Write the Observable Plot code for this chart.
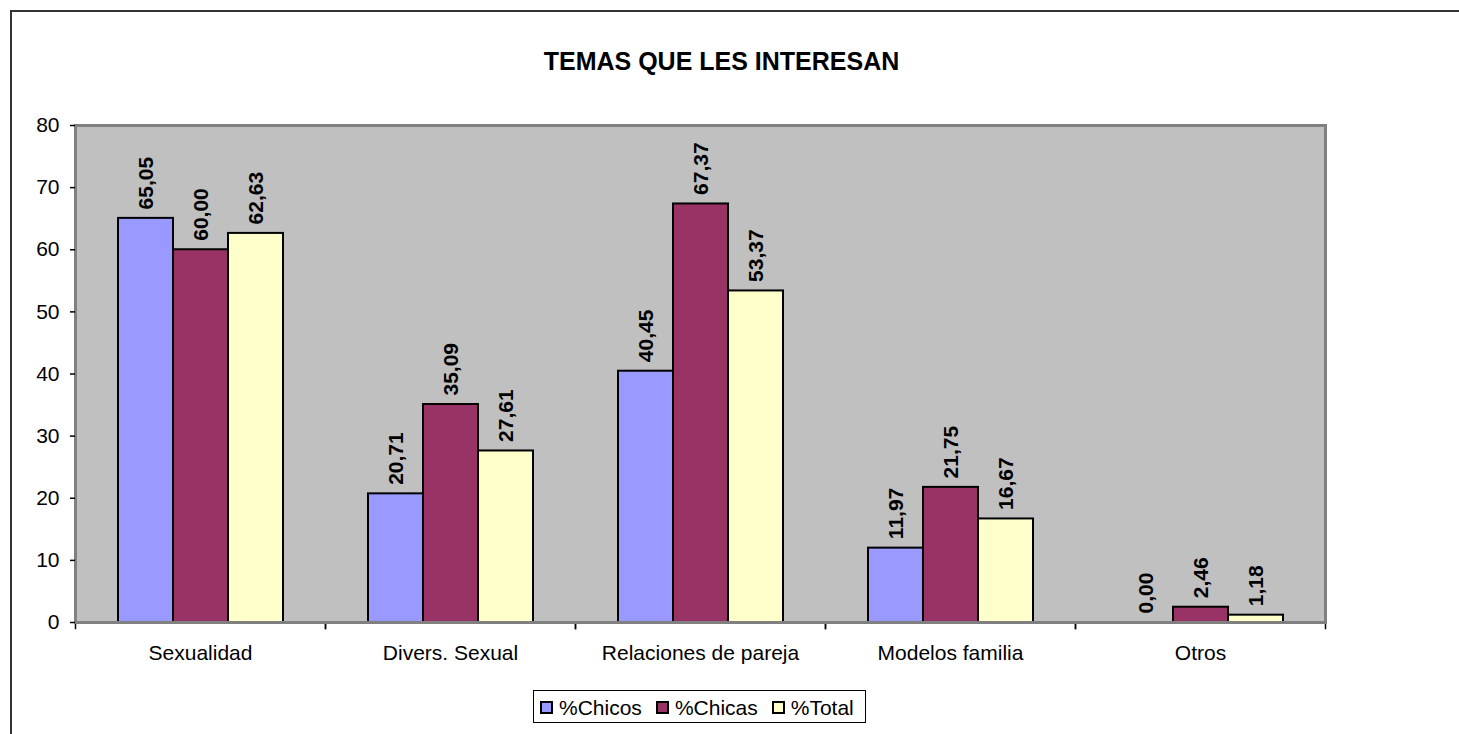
<!DOCTYPE html>
<html>
<head>
<meta charset="utf-8">
<script src="https://cdn.jsdelivr.net/npm/d3@7"></script>
<script src="https://cdn.jsdelivr.net/npm/@observablehq/plot@0.6"></script>
<style>
  html, body { margin: 0; padding: 0; overflow: hidden; background: #fff; width: 1459px; height: 734px; }
  body { font-family: "Liberation Sans", Arial, sans-serif; color: #000; position: relative; }
  #outer { position: absolute; left: 10px; top: 10px; width: 1500px; height: 800px; border: 2px solid #333; box-sizing: border-box; }
  #title { position: absolute; left: 0; top: 49px; width: 1443px; text-align: center; font-weight: bold; font-size: 25px; line-height: 25px; }
  #chart { position: absolute; left: 0; top: 100px; }
  #legend { position: absolute; left: 533px; top: 690px; border: 1px solid #000; padding: 3px 11px 0 6px; height: 28px; line-height: 28px; font-size: 21px; white-space: nowrap; background: #fff; }
  .item { display: inline-block; }
  .item + .item { margin-left: 14px; }
  .sw { display: inline-block; width: 9px; height: 9px; border: 2px solid #000; vertical-align: 1px; margin-right: 6px; }
</style>
</head>
<body>
<div id="outer"></div>
<div id="title">TEMAS QUE LES INTERESAN</div>
<div id="chart"></div>
<div id="legend"></div>
<script>
// ---- data ----
const categories = ["Sexualidad", "Divers. Sexual", "Relaciones de pareja", "Modelos familia", "Otros"];
const series = ["%Chicos", "%Chicas", "%Total"];
const chicos = [65.05, 20.71, 40.45, 11.97, 0.00];
const chicas = [60.00, 35.09, 67.37, 21.75, 2.46];
const total  = [62.63, 27.61, 53.37, 16.67, 1.18];
const seriesColors = ["#9999FF", "#993366", "#FFFFCC"];
const yTicks = [0, 10, 20, 30, 40, 50, 60, 70, 80];

const valuesBySeries = [chicos, chicas, total];
const rows = [];
categories.forEach((c, i) => {
  series.forEach((s, j) => rows.push({category: c, series: s, value: valuesBySeries[j][i]}));
});
const fmt = v => v.toFixed(2).replace(".", ",");

// ---- layout ----
const W = 1459, H = 570, mT = 25, mB = 48, mL = 73, mR = 133;
const frameH = H - mT - mB;

const chart = Plot.plot({
  width: W, height: H,
  marginTop: mT, marginBottom: mB, marginLeft: mL, marginRight: mR,
  style: {fontFamily: "'Liberation Sans', Arial, sans-serif", fontSize: "21px", background: "transparent", color: "#000", overflow: "visible"},
  fx: {domain: categories, padding: 0, label: null},
  x: {domain: series, paddingInner: 0, paddingOuter: 0.74, axis: null},
  y: {domain: [0, 80], label: null},
  color: {domain: series, range: seriesColors},
  marks: [
    Plot.frame({facet: "super", fill: "#C0C0C0"}),
    Plot.barY(rows, {fx: "category", x: "series", y: "value", fill: "series", stroke: "#000", strokeWidth: 2}),
    Plot.text(rows, {fx: "category", x: "series", y: "value", text: d => fmt(d.value), rotate: -90, textAnchor: "start", dy: -9, fontWeight: "bold", fontSize: 21, fill: "#000"}),
    Plot.ruleY([0], {stroke: "#000", strokeWidth: 2}),
    Plot.frame({anchor: "left", stroke: "#000", strokeWidth: 1.5, insetTop: frameH, insetBottom: -6}),
    Plot.frame({anchor: "right", stroke: "#000", strokeWidth: 1.5, insetTop: frameH, insetBottom: -6}),
    Plot.frame({facet: "super", stroke: "#808080", strokeWidth: 3, fill: "none"}),
    Plot.axisY({ticks: yTicks, tickSize: 5, tickPadding: 11, line: true, label: null, fontSize: 21, strokeWidth: 1.5}),
    Plot.axisFx({anchor: "bottom", tickSize: 0, tickPadding: 23, label: null, fontSize: 21})
  ]
});
document.getElementById("chart").appendChild(chart);

// ---- legend ----
const legend = document.getElementById("legend");
series.forEach((s, i) => {
  const item = document.createElement("span");
  item.className = "item";
  const sw = document.createElement("span");
  sw.className = "sw";
  sw.style.background = seriesColors[i];
  item.appendChild(sw);
  item.appendChild(document.createTextNode(s));
  legend.appendChild(item);
});
</script>
</body>
</html>
